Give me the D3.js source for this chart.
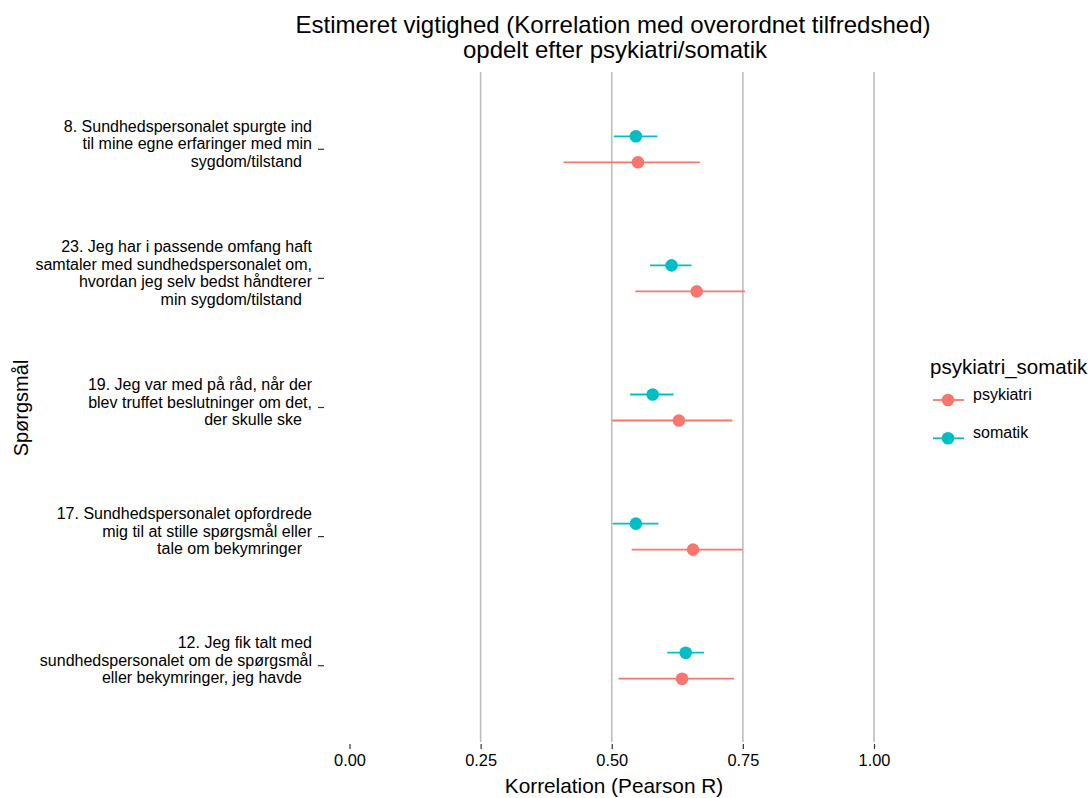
<!DOCTYPE html>
<html><head><meta charset="utf-8">
<script src="https://cdn.jsdelivr.net/npm/d3@7"></script>
<style>body{margin:0;background:#fff} text{font-family:"Liberation Sans",Arial,sans-serif;fill:#000}</style>
</head><body><svg id="c" width="1091" height="798"></svg>
<script>
// ---- data ----
const questionIds = ["8", "23", "19", "17", "12"];
const questionLabels = [
  ["8. Sundhedspersonalet spurgte ind", "til mine egne erfaringer med min", "sygdom/tilstand"],
  ["23. Jeg har i passende omfang haft", "samtaler med sundhedspersonalet om,", "hvordan jeg selv bedst håndterer", "min sygdom/tilstand"],
  ["19. Jeg var med på råd, når der", "blev truffet beslutninger om det,", "der skulle ske"],
  ["17. Sundhedspersonalet opfordrede", "mig til at stille spørgsmål eller", "tale om bekymringer"],
  ["12. Jeg fik talt med", "sundhedspersonalet om de spørgsmål", "eller bekymringer, jeg havde"]
];
const groups = ["psykiatri", "somatik"];
const psykiatriEst = [0.550, 0.662, 0.628, 0.655, 0.634];
const psykiatriLow = [0.408, 0.545, 0.501, 0.538, 0.513];
const psykiatriHigh = [0.668, 0.754, 0.730, 0.749, 0.733];
const somatikEst = [0.546, 0.614, 0.578, 0.546, 0.641];
const somatikLow = [0.504, 0.573, 0.535, 0.502, 0.606];
const somatikHigh = [0.587, 0.652, 0.618, 0.589, 0.676];
const xTickValues = [0, 0.25, 0.5, 0.75, 1];
const xGridValues = [0.25, 0.5, 0.75, 1];
const colors = ["#F8766D", "#00BFC4"];

// ---- chart ----
const svg = d3.select("#c");
const x = d3.scaleLinear().domain([0, 1]).range([349.5, 874]);
const y = d3.scalePoint().domain(questionIds).range([149.3, 665.7]);
const color = d3.scaleOrdinal().domain(groups).range(colors);
const dodge = d3.scaleOrdinal().domain(groups).range([13, -13]);
const panelTop = 72, panelBottom = 742;

// gridlines
svg.append("g").selectAll("line").data(xGridValues).join("line")
  .attr("x1", d => x(d)).attr("x2", d => x(d))
  .attr("y1", panelTop).attr("y2", panelBottom)
  .attr("stroke", "#bdbdbd").attr("stroke-width", 1.6);

// x axis
const xAxis = svg.append("g").attr("transform", `translate(0,${panelBottom + 2})`)
  .call(d3.axisBottom(x).tickValues(xTickValues).tickFormat(d3.format(".2f")).tickSize(5).tickPadding(5));
xAxis.select(".domain").remove();
xAxis.selectAll(".tick line").attr("stroke", "#333").attr("stroke-width", 1.2);
xAxis.selectAll(".tick text").attr("font-size", 16.4).attr("fill", "#000")
  .style("font-family", '"Liberation Sans",Arial,sans-serif');

// y ticks + labels
const yg = svg.append("g");
questionIds.forEach((id, i) => {
  const cy = y(id);
  yg.append("line").attr("x1", 318).attr("x2", 324).attr("y1", cy).attr("y2", cy)
    .attr("stroke", "#333").attr("stroke-width", 1.2);
  const lines = questionLabels[i];
  const lh = 17.6;
  const top = cy - 5.5 - (lines.length - 1) * lh / 2;
  lines.forEach((ln, j) => {
    yg.append("text").attr("x", j === lines.length - 1 ? 302 : 312)
      .attr("y", top + j * lh).attr("dy", "0.35em")
      .attr("text-anchor", "end").attr("font-size", 16).text(ln);
  });
});

// error bars and points
const series = [
  {g: "psykiatri", est: psykiatriEst, lo: psykiatriLow, hi: psykiatriHigh},
  {g: "somatik", est: somatikEst, lo: somatikLow, hi: somatikHigh}
];
series.forEach(s => {
  const rows = questionIds.map((id, i) => ({id, est: s.est[i], lo: s.lo[i], hi: s.hi[i]}));
  const g = svg.append("g");
  g.selectAll("line").data(rows).join("line")
    .attr("x1", d => x(d.lo)).attr("x2", d => x(d.hi))
    .attr("y1", d => y(d.id) + dodge(s.g)).attr("y2", d => y(d.id) + dodge(s.g))
    .attr("stroke", color(s.g)).attr("stroke-width", 1.8);
  g.selectAll("circle").data(rows).join("circle")
    .attr("cx", d => x(d.est)).attr("cy", d => y(d.id) + dodge(s.g))
    .attr("r", 6.3).attr("fill", color(s.g));
});

// titles
svg.append("text").attr("x", 613).attr("y", 32.5).attr("text-anchor", "middle")
  .attr("font-size", 24).text("Estimeret vigtighed (Korrelation med overordnet tilfredshed)");
svg.append("text").attr("x", 615).attr("y", 57.5).attr("text-anchor", "middle")
  .attr("font-size", 24).text("opdelt efter psykiatri/somatik");
svg.append("text").attr("x", 614).attr("y", 793).attr("text-anchor", "middle")
  .attr("font-size", 20.8).text("Korrelation (Pearson R)");
svg.append("text").attr("transform", "translate(28,408) rotate(-90)").attr("text-anchor", "middle")
  .attr("font-size", 20).text("Spørgsmål");

// legend
const lg = svg.append("g");
lg.append("text").attr("x", 930).attr("y", 374).attr("font-size", 20.5).text("psykiatri_somatik");
groups.forEach((grp, i) => {
  const ky = 400 + i * 38.3;
  lg.append("line").attr("x1", 933).attr("x2", 964).attr("y1", ky).attr("y2", ky)
    .attr("stroke", color(grp)).attr("stroke-width", 1.8);
  lg.append("circle").attr("cx", 948).attr("cy", ky).attr("r", 6.3).attr("fill", color(grp));
  lg.append("text").attr("x", 973).attr("y", ky - 6).attr("dy", "0.35em")
    .attr("font-size", 16).text(grp);
});
</script></body></html>
